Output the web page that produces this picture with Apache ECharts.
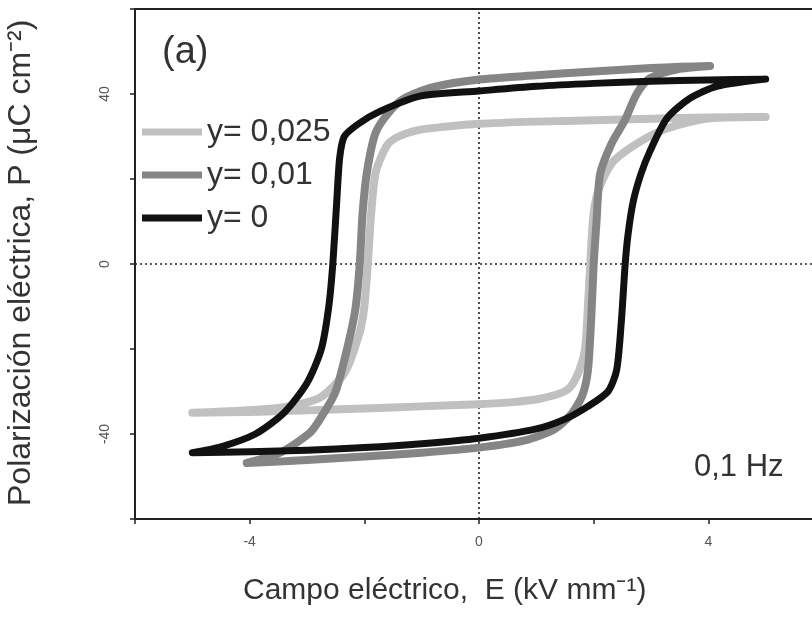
<!DOCTYPE html>
<html>
<head>
<meta charset="utf-8">
<script src="https://cdn.jsdelivr.net/npm/echarts@6/dist/echarts.min.js"></script>
<style>
  html, body { margin: 0; padding: 0; background: #fff; }
  #chart { width: 812px; height: 618px; }
</style>
</head>
<body>
<div id="chart"></div>
<script>
// Hysteresis loops P(E) at 0.1 Hz for three compositions.
// Each loop = ascending branch (lower) followed by descending branch (upper).
const seriesNames = ['y= 0,025', 'y= 0,01', 'y= 0'];

const loop025Up = [
  [-5.0, -35.0], [-4.0, -34.8], [-3.1, -34.5], [-2.0, -34.0], [-1.0, -33.5], [0, -33.0],
  [0.6, -32.5], [1.06, -31.7], [1.4, -30.5], [1.59, -29.0], [1.75, -25.0], [1.85, -20.0],
  [1.9, -10.0], [1.94, 0], [2.0, 12.0], [2.1, 18.0], [2.34, 24.1], [2.81, 28.8],
  [3.28, 31.9], [4.03, 34.3], [5.0, 34.6]
];
const loop025Down = [
  [5.0, 34.6], [4.0, 34.5], [3.0, 34.2], [2.0, 33.8], [1.0, 33.5], [0, 33.0],
  [-0.6, 32.3], [-1.06, 31.5], [-1.4, 30.0], [-1.6, 28.0], [-1.8, 21.7], [-1.88, 12.0],
  [-1.94, 0], [-2.0, -10.0], [-2.08, -16.0], [-2.34, -25.5], [-2.77, -31.4],
  [-3.47, -33.8], [-5.0, -35.0]
];

const loop01Up = [
  [-4.05, -46.8], [-3.5, -46.5], [-3.0, -46.1], [-2.0, -45.3], [-1.0, -44.4], [0, -43.2],
  [0.8, -41.5], [1.3, -39.0], [1.6, -35.5], [1.8, -31.0], [1.9, -25.0], [1.96, -12.0],
  [2.0, 0], [2.05, 10.0], [2.11, 21.0], [2.3, 28.0], [2.55, 34.0], [2.75, 40.0],
  [2.98, 43.7], [3.5, 45.9], [4.03, 46.6]
];
const loop01Down = [
  [4.03, 46.6], [3.5, 46.4], [3.0, 46.1], [2.0, 45.3], [1.0, 44.4], [0, 43.4],
  [-0.8, 41.6], [-1.3, 39.0], [-1.55, 36.0], [-1.8, 31.0], [-1.95, 22.0], [-2.03, 12.0],
  [-2.08, 0], [-2.15, -10.0], [-2.25, -17.0], [-2.5, -30.0], [-2.75, -36.0],
  [-2.95, -39.7], [-3.47, -44.4], [-4.05, -46.8]
];

const loop0Up = [
  [-5.0, -44.4], [-4.0, -44.2], [-3.0, -43.8], [-2.0, -43.2], [-1.0, -42.3], [0, -41.0],
  [1.0, -38.8], [1.5, -36.5], [1.9, -33.5], [2.25, -30.0], [2.4, -25.0], [2.48, -14.0],
  [2.55, 0], [2.6, 7.0], [2.69, 14.7], [2.82, 21.0], [2.98, 26.5], [3.28, 34.3],
  [3.68, 39.0], [4.15, 41.8], [5.0, 43.5]
];
const loop0Down = [
  [5.0, 43.5], [4.0, 43.3], [3.0, 43.0], [2.0, 42.5], [1.0, 41.8], [0, 40.7],
  [-1.03, 39.5], [-1.73, 35.9], [-2.1, 33.0], [-2.35, 30.0], [-2.43, 25.0], [-2.48, 15.0],
  [-2.55, 0], [-2.62, -10.0], [-2.75, -20.0], [-3.0, -28.0], [-3.4, -35.0],
  [-3.9, -40.0], [-4.5, -43.0], [-5.0, -44.4]
];

const xTickLabels = [-4, 0, 4];
const yTickLabels = [-40, 0, 40];

const FONT = '"Liberation Sans", Arial, sans-serif';
const chart = echarts.init(document.getElementById('chart'), null, { renderer: 'canvas' });

function loopSeries(name, up, down, color, width, withZeroLines) {
  const s = {
    name: name,
    type: 'line',
    data: up.concat(down),
    showSymbol: false,
    symbol: 'none',
    smooth: 0.25,
    lineStyle: { color: color, width: width, cap: 'round', join: 'round' },
    itemStyle: { color: color },
    z: 3,
    animation: false
  };
  if (withZeroLines) {
    s.markLine = {
      silent: true,
      symbol: 'none',
      label: { show: false },
      lineStyle: { type: [2, 3], color: '#222', width: 1.6 },
      data: [{ xAxis: 0 }, { yAxis: 0 }],
      animation: false,
      z: 1
    };
  }
  return s;
}

chart.setOption({
  backgroundColor: '#fff',
  animation: false,
  grid: {
    left: 135, top: 9, width: 688, height: 510,
    outerBoundsMode: 'none', containLabel: false,
    show: true, borderColor: '#222', borderWidth: 2, backgroundColor: 'transparent'
  },
  xAxis: {
    type: 'value', min: -6, max: 6, interval: 2,
    axisLine: { show: true, onZero: false, lineStyle: { color: '#222', width: 2 } },
    axisTick: { show: true, inside: false, length: 5, lineStyle: { color: '#222', width: 1.5 } },
    splitLine: { show: false },
    axisLabel: {
      margin: 16, fontSize: 14, color: '#555', fontFamily: FONT,
      formatter: v => (xTickLabels.indexOf(v) >= 0 ? String(v) : '')
    }
  },
  yAxis: {
    type: 'value', min: -60, max: 60, interval: 20,
    axisLine: { show: true, onZero: false, lineStyle: { color: '#222', width: 2 } },
    axisTick: { show: true, inside: false, length: 5, lineStyle: { color: '#222', width: 1.5 } },
    splitLine: { show: false },
    axisLabel: {
      margin: 23, fontSize: 14, color: '#555', fontFamily: FONT, rotate: 90,
      formatter: v => (yTickLabels.indexOf(v) >= 0 ? String(v) : '')
    }
  },
  legend: {
    orient: 'vertical', left: 142, top: 116, padding: 0, itemGap: 11,
    itemWidth: 60, itemHeight: 7, icon: 'rect',
    data: seriesNames,
    selectedMode: false,
    textStyle: { fontSize: 32, lineHeight: 32, color: '#333', fontFamily: FONT }
  },
  series: [
    loopSeries(seriesNames[0], loop025Up, loop025Down, '#c0c0c0', 8, true),
    loopSeries(seriesNames[1], loop01Up, loop01Down, '#858585', 8, false),
    loopSeries(seriesNames[2], loop0Up, loop0Down, '#111111', 7, false)
  ],
  graphic: [
    { type: 'text', left: 162, top: 34, style: { text: '(a)', fontSize: 38, fill: '#333', fontFamily: FONT } },
    { type: 'text', left: 694, top: 452, style: { text: '0,1 Hz', fontSize: 31, fill: '#333', fontFamily: FONT } },
    { type: 'text', left: 243, top: 576, style: { text: 'Campo eléctrico,  E (kV mm⁻¹)', fontSize: 30, fill: '#333', fontFamily: FONT } },
    {
      type: 'text', x: 5, y: 506, rotation: Math.PI / 2,
      style: { text: 'Polarización eléctrica, P (μC cm⁻²)', fontSize: 32, fill: '#333', fontFamily: FONT, verticalAlign: 'top' }
    }
  ]
});
</script>
</body>
</html>
